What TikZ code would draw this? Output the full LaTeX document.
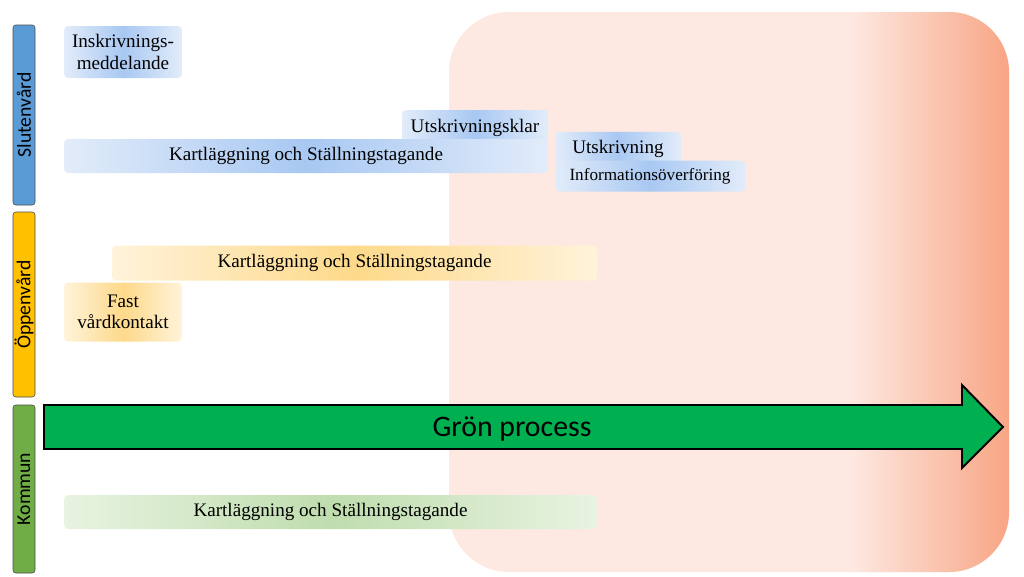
\documentclass[tikz,border=0pt]{standalone}
\usepackage{fontspec}
\setmainfont{Liberation Serif}
\newfontfamily\calib{Carlito}
\usepackage{tikz}
\usetikzlibrary{calc, positioning}
\definecolor{zonePink}{HTML}{FDE9E2}
\definecolor{zoneSalmon}{HTML}{F8A584}
\definecolor{laneBlue}{HTML}{5B9BD5}
\definecolor{laneYellow}{HTML}{FFC000}
\definecolor{laneGreen}{HTML}{70AD47}
\definecolor{procGreen}{HTML}{00B050}
\definecolor{blueMid}{HTML}{A8C8F2}
\definecolor{blueEdge}{HTML}{E2ECFA}
\definecolor{yellowMid}{HTML}{FDD98A}
\definecolor{yellowEdge}{HTML}{FFF3DA}
\definecolor{greenMid}{HTML}{BFDDAE}
\definecolor{greenEdge}{HTML}{E8F3E1}
\tikzset{
  lane/.style  = {draw=black!70, rounded corners=2pt, minimum height=5.5mm,
                  inner sep=0pt, rotate=90, font=\calib\fontsize{14}{14}\selectfont},
  box/.style   = {rounded corners=3pt, align=center, inner sep=2pt,
                  font=\fontsize{13.6}{15}\selectfont},
  bluebox/.style   = {box, left color=blueEdge, right color=blueEdge, middle color=blueMid},
  yellowbox/.style = {box, left color=yellowEdge, right color=yellowEdge, middle color=yellowMid},
  greenbox/.style  = {box, left color=greenEdge, right color=greenEdge, middle color=greenMid}
}
\begin{document}
\begin{tikzpicture}
  \useasboundingbox (0,0) rectangle (25.6,-14.4);
  % utskrivningszon
  \fill[zonePink, rounded corners=1.5cm] (11.225,-0.3) rectangle (25.225,-14.3);
  \begin{scope}
    \clip[rounded corners=1.5cm] (11.225,-0.3) rectangle (25.225,-14.3);
    \shade[left color=zonePink, right color=zoneSalmon] (21.25,-0.3) rectangle (25.25,-14.3);
  \end{scope}
  % spår
  \node[lane, fill=laneBlue, minimum width=45mm] (sv) at (0.6,-2.875) {Slutenvård};
  \node[lane, fill=laneYellow, minimum width=46.25mm] (ov) at (0.6,-7.6125) {Öppenvård};
  \node[lane, fill=laneGreen, minimum width=42mm] (ko) at (0.6,-12.225) {Kommun};
  % slutenvård
  \node[bluebox, minimum width=29.5mm, minimum height=13mm] (ink) at (3.075,-1.3) {Inskrivnings-\\meddelande};
  \node[bluebox, minimum width=36.5mm, minimum height=9mm] (uk) at (11.875,-3.2) {Utskrivningsklar};
  \node[bluebox, minimum width=121mm, minimum height=8.5mm] (ks) at (7.65,-3.9) {Kartläggning och Ställningstagande};
  \node[bluebox, minimum width=31.5mm, minimum height=8.5mm] (us) at (15.45,-3.72) {Utskrivning};
  \node[bluebox, minimum width=47.5mm, minimum height=7.75mm, font=\fontsize{12.2}{13}\selectfont] (io) at (16.25,-4.4) {Informationsöverföring};
  % öppenvård
  \node[yellowbox, minimum width=121.25mm, minimum height=8.75mm] (ko2) at (8.8625,-6.58) {Kartläggning och Ställningstagande};
  \node[yellowbox, minimum width=29.5mm, minimum height=14.75mm] (fv) at (3.075,-7.8) {Fast\\vårdkontakt};
  % grön process
  \draw[fill=procGreen, line width=1.4pt, line join=miter]
    (1.1,-10.125) -- (24.05,-10.125) -- (24.05,-9.625) -- (25.075,-10.675)
    -- (24.05,-11.7) -- (24.05,-11.225) -- (1.1,-11.225) -- cycle;
  \node[font=\calib\fontsize{21.2}{22}\selectfont] (gp) at (12.8,-10.72) {Grön process};
  % kommun
  \node[greenbox, minimum width=133.25mm, minimum height=8.5mm] (kk) at (8.2625,-12.8) {Kartläggning och Ställningstagande};
\end{tikzpicture}
\end{document}
